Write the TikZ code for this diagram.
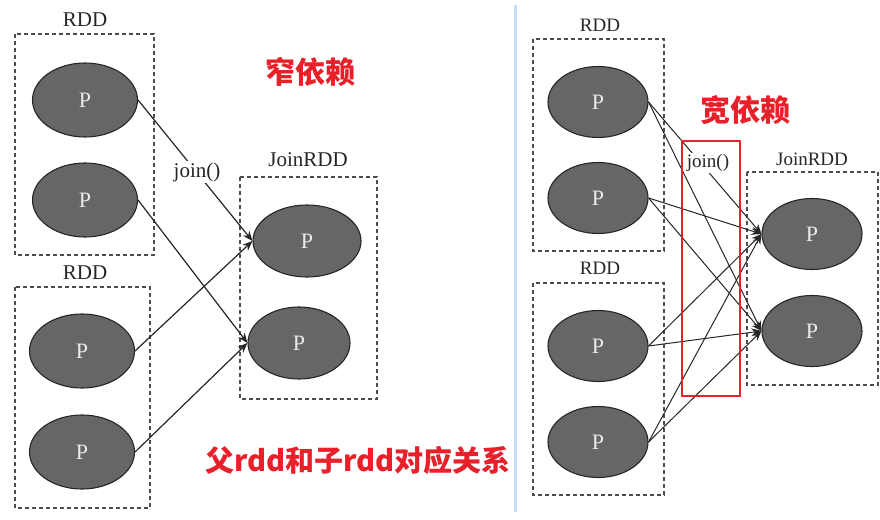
\documentclass[tikz,border=0pt]{standalone}
\usepackage{fontspec}
\setmainfont{Liberation Serif}
\newfontfamily\cjk{Noto Sans CJK SC}
\usetikzlibrary{shapes.geometric,arrows.meta}
\definecolor{pfill}{HTML}{666666}
\definecolor{redtxt}{HTML}{E8202A}
\definecolor{divider}{HTML}{C9DDF6}
\begin{document}
\begin{tikzpicture}[x=1pt,y=-1pt,
  part/.style={ellipse,draw=black!85,line width=1.1pt,fill=pfill,inner sep=0pt,
    text=black!8,font=\fontsize{22}{24}\selectfont},
  pl/.style={part,minimum width=105pt,minimum height=74pt},
  pr/.style={part,minimum width=100pt,minimum height=71pt},
  rddbox/.style={draw=black!70,line width=1.2pt,dash pattern=on 4pt off 3pt},
  lbl/.style={font=\fontsize{21}{24}\selectfont,text=black!85},
  lbr/.style={font=\fontsize{19}{22}\selectfont,text=black!85},
  conn/.style={draw=black!85,line width=1.2pt,-{Stealth[length=10pt,width=8pt]}},
  redlbl/.style={font=\cjk\bfseries\fontsize{30}{34}\selectfont,text=redtxt},
]
\useasboundingbox (0,0) rectangle (880,519);
\fill[white] (0,0) rectangle (880,519);
% divider
\draw[divider,line width=3pt] (515,5) -- (515,512);

% ===== left panel =====
\draw[rddbox] (15,34) rectangle (154,255);
\draw[rddbox] (15,287) rectangle (150,508);
\draw[rddbox] (240,177) rectangle (377,399);
\node[lbl] (lr1) at (85,20) {RDD};
\node[lbl] (lr2) at (85,273) {RDD};
\node[lbl] (ljr) at (308,160) {JoinRDD};
\node[pl] (a1) at (85,100) {P};
\node[pl] (a2) at (85,200) {P};
\node[pl] (a3) at (82,351) {P};
\node[pl] (a4) at (82,452) {P};
\node[part,minimum width=108pt,minimum height=72pt] (j1) at (307,241) {P};
\node[part,minimum width=102pt,minimum height=72pt] (j2) at (299,343) {P};
\draw[conn] (a1.east) -- (j1.west);
\draw[conn] (a2.east) -- (j2.west);
\draw[conn] (a3.east) -- (j1.west);
\draw[conn] (a4.east) -- (j2.west);
\node[lbl,fill=white,inner sep=1pt] (ljoin) at (197,172) {join()};
\node[redlbl] (narrow) at (310,72) {窄依赖};
\node[redlbl,font=\cjk\bfseries\fontsize{29}{32}\selectfont] (rel) at (358,460) {父rdd和子rdd对应关系};

% ===== right panel =====
\draw[rddbox] (533,39) rectangle (664,251);
\draw[rddbox] (533,283) rectangle (664,495);
\draw[rddbox] (747,172) rectangle (878,385);
\node[lbr] (rr1) at (600,25) {RDD};
\node[lbr] (rr2) at (600,268) {RDD};
\node[lbr] (rjr) at (812,159) {JoinRDD};
\node[pr] (b1) at (598,102) {P};
\node[pr] (b2) at (598,198) {P};
\node[pr] (b3) at (598,346) {P};
\node[pr] (b4) at (598,442) {P};
\node[pr] (k1) at (812,234) {P};
\node[pr] (k2) at (812,331) {P};
\foreach \s in {b1,b2,b3,b4}{
  \draw[conn,line width=1pt] (\s.east) -- (k1.west);
  \draw[conn,line width=1pt] (\s.east) -- (k2.west);
}
\node[lbr,fill=white,inner sep=1pt] (rjoin) at (708,163) {join()};
\draw[redtxt,line width=2.2pt] (682,141) rectangle (740,396);
\node[redlbl] (wide) at (745,110) {宽依赖};
\end{tikzpicture}
\end{document}
